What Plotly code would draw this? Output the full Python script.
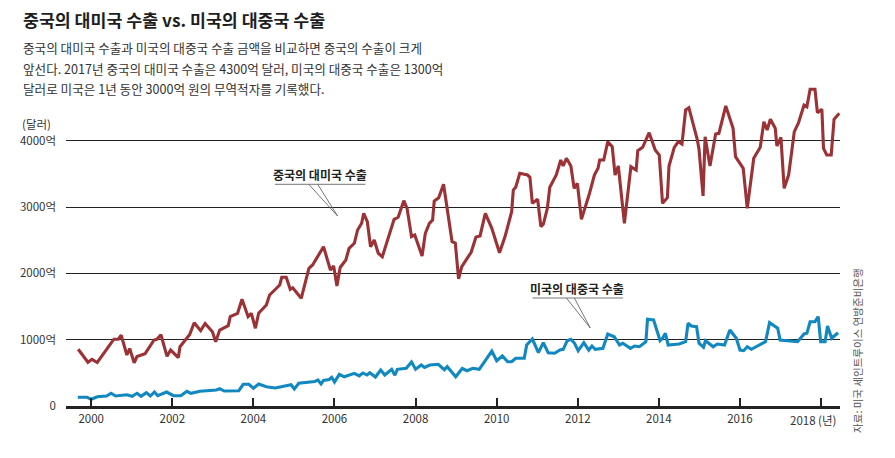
import plotly.graph_objects as go

# ---- data (x = decimal year, y = 억 달러) ----
china_to_us_t = [1999.68, 1999.92, 2000.02, 2000.15, 2000.56, 2000.67, 2000.74, 2000.88, 2000.95, 2001.06,
                 2001.13, 2001.33, 2001.55, 2001.62, 2001.72, 2001.87, 2001.96, 2002.15, 2002.19, 2002.43,
                 2002.54, 2002.70, 2002.81, 2002.99, 2003.07, 2003.17, 2003.38, 2003.43, 2003.61, 2003.72,
                 2003.87, 2003.95, 2004.05, 2004.13, 2004.32, 2004.40, 2004.65, 2004.70, 2004.81, 2004.91,
                 2004.97, 2005.18, 2005.37, 2005.46, 2005.73, 2005.90, 2005.98, 2006.06, 2006.14, 2006.28,
                 2006.36, 2006.49, 2006.57, 2006.67, 2006.72, 2006.81, 2006.89, 2006.98, 2007.08, 2007.18,
                 2007.47, 2007.57, 2007.71, 2007.79, 2007.90, 2007.98, 2008.16, 2008.24, 2008.34, 2008.42,
                 2008.46, 2008.57, 2008.69, 2008.90, 2008.98, 2009.06, 2009.14, 2009.37, 2009.49, 2009.59,
                 2009.72, 2009.88, 2010.07, 2010.21, 2010.37, 2010.41, 2010.47, 2010.57, 2010.76, 2010.82,
                 2010.88, 2011.01, 2011.09, 2011.15, 2011.25, 2011.31, 2011.47, 2011.58, 2011.64, 2011.72,
                 2011.83, 2011.91, 2011.99, 2012.09, 2012.29, 2012.41, 2012.50, 2012.54, 2012.64, 2012.74,
                 2012.85, 2012.92, 2013.00, 2013.15, 2013.31, 2013.44, 2013.48, 2013.60, 2013.76, 2013.91,
                 2014.01, 2014.09, 2014.21, 2014.25, 2014.38, 2014.48, 2014.57, 2014.66, 2014.74, 2014.95,
                 2014.99, 2015.09, 2015.14, 2015.26, 2015.40, 2015.48, 2015.65, 2015.83, 2015.89, 2016.08,
                 2016.18, 2016.34, 2016.50, 2016.59, 2016.67, 2016.75, 2016.87, 2016.91, 2017.01, 2017.09,
                 2017.20, 2017.34, 2017.44, 2017.58, 2017.65, 2017.73, 2017.85, 2017.91, 2018.02, 2018.06,
                 2018.14, 2018.25, 2018.32, 2018.45]
china_to_us_v = [855, 659, 704, 656, 1007, 1007, 1068, 769, 867, 652,
                 746, 789, 995, 1006, 1074, 749, 844, 731, 894, 1078,
                 1256, 1136, 1244, 1120, 970, 1146, 1211, 1347, 1398, 1609,
                 1347, 1398, 1172, 1398, 1523, 1674, 1825, 1941, 1941, 1760,
                 1784, 1624, 2077, 2126, 2402, 2051, 2111, 1810, 2089, 2202,
                 2378, 2454, 2654, 2755, 2906, 2779, 2402, 2503, 2303, 2251,
                 2815, 2846, 3096, 2981, 2553, 2579, 2262, 2604, 2755, 2805,
                 3091, 3141, 3343, 2478, 2458, 1918, 2101, 2319, 2549, 2564,
                 2906, 2680, 2312, 2564, 2930, 3257, 3298, 3509, 3483, 3449,
                 3057, 3117, 2704, 2740, 2981, 3298, 3483, 3710, 3619, 3735,
                 3619, 3283, 3358, 2815, 3208, 3483, 3585, 3710, 3710, 3986,
                 3910, 3483, 3619, 2755, 3609, 3559, 3850, 3901, 4121, 3860,
                 3785, 3057, 3141, 3619, 3901, 3986, 3951, 4464, 4498, 4011,
                 3871, 3167, 4061, 3619, 4102, 4112, 4524, 4188, 3759, 3584,
                 2981, 3735, 3901, 4287, 4162, 4323, 4188, 3921, 4052, 3283,
                 3483, 4137, 4263, 4539, 4513, 4776, 4776, 4423, 4474, 3886,
                 3785, 3785, 4323, 4414]

us_to_china_t = [1999.67, 1999.90, 2000.00, 2000.15, 2000.38, 2000.49, 2000.60, 2000.88, 2001.01, 2001.13,
                 2001.23, 2001.36, 2001.46, 2001.56, 2001.64, 2001.86, 2002.03, 2002.21, 2002.36, 2002.46,
                 2002.68, 2002.89, 2003.09, 2003.17, 2003.28, 2003.64, 2003.75, 2003.89, 2004.00, 2004.13,
                 2004.32, 2004.54, 2004.85, 2004.93, 2005.01, 2005.12, 2005.51, 2005.59, 2005.67, 2005.73,
                 2005.87, 2005.93, 2006.00, 2006.12, 2006.24, 2006.49, 2006.61, 2006.70, 2006.80, 2006.87,
                 2007.01, 2007.14, 2007.24, 2007.41, 2007.49, 2007.55, 2007.77, 2007.90, 2008.00, 2008.14,
                 2008.22, 2008.35, 2008.56, 2008.71, 2008.78, 2008.99, 2009.15, 2009.27, 2009.41, 2009.57,
                 2009.88, 2010.00, 2010.14, 2010.27, 2010.37, 2010.47, 2010.68, 2010.74, 2010.88, 2011.03,
                 2011.15, 2011.27, 2011.43, 2011.56, 2011.64, 2011.74, 2011.83, 2011.92, 2012.01, 2012.15,
                 2012.27, 2012.35, 2012.43, 2012.62, 2012.74, 2012.90, 2013.03, 2013.11, 2013.30, 2013.40,
                 2013.52, 2013.68, 2013.72, 2013.87, 2014.03, 2014.09, 2014.16, 2014.23, 2014.50, 2014.66,
                 2014.72, 2014.80, 2014.93, 2014.99, 2015.10, 2015.15, 2015.34, 2015.44, 2015.62, 2015.75,
                 2015.91, 2016.00, 2016.09, 2016.18, 2016.28, 2016.63, 2016.73, 2016.93, 2016.99, 2017.24,
                 2017.42, 2017.58, 2017.65, 2017.73, 2017.85, 2017.93, 2017.99, 2018.10, 2018.16, 2018.26,
                 2018.42]
us_to_china_v = [131, 131, 101, 140, 151, 192, 151, 170, 146, 192,
                 146, 201, 151, 211, 155, 211, 155, 155, 222, 192,
                 222, 231, 241, 261, 226, 231, 327, 327, 267, 332,
                 291, 271, 306, 320, 256, 342, 369, 392, 332, 385,
                 400, 433, 362, 478, 440, 493, 455, 498, 467, 502,
                 437, 543, 467, 553, 464, 553, 568, 664, 555, 618,
                 581, 618, 629, 547, 593, 442, 565, 532, 569, 553,
                 829, 683, 754, 668, 668, 719, 719, 920, 1010, 804,
                 955, 804, 795, 844, 855, 985, 1006, 946, 834, 955,
                 844, 905, 855, 870, 1086, 1045, 920, 946, 870, 905,
                 894, 970, 1307, 1297, 985, 1021, 1096, 920, 935, 970,
                 1247, 1206, 1196, 946, 885, 985, 894, 935, 920, 1146,
                 1021, 844, 834, 894, 855, 970, 1256, 1172, 995, 980,
                 970, 1086, 1096, 1271, 1271, 1347, 970, 970, 1206, 1021,
                 1105]

year_ticks = [2000, 2002, 2004, 2006, 2008, 2010, 2012, 2014, 2016, 2018]
year_labels = ["2000", "2002", "2004", "2006", "2008", "2010", "2012", "2014", "2016", ""]
value_ticks = [0, 1000, 2000, 3000, 4000]
value_labels = ["0", "1000억", "2000억", "3000억", "4000억"]

title = "중국의 대미국 수출 vs. 미국의 대중국 수출"
subtitle = ["중국의 대미국 수출과 미국의 대중국 수출 금액을 비교하면 중국의 수출이 크게",
            "앞선다. 2017년 중국의 대미국 수출은 4300억 달러, 미국의 대중국 수출은 1300억",
            "달러로 미국은 1년 동안 3000억 원의 무역적자를 기록했다."]
source = "자료: 미국 세인트루이스 연방준비은행"

# ---- layout geometry (page body adds an 8px offset) ----
OFF = 8
W, H = 895 - OFF, 458 - OFF
PLOT_L, PLOT_R, PLOT_T, PLOT_B = 62, 840, 80, 406   # target window pixels
L = PLOT_L - OFF
T = PLOT_T - OFF
R = W - (PLOT_R - OFF)
B = H - (PLOT_B - OFF)
PW = PLOT_R - PLOT_L
PH = PLOT_B - PLOT_T
FONT = "Noto Sans CJK KR"
RED = "#9b3236"
BLUE = "#1189c0"


def px(xp):
    return (xp - PLOT_L) / PW


def py(yp):
    return (PLOT_B - yp) / PH


fig = go.Figure()
fig.add_trace(go.Scatter(x=china_to_us_t, y=china_to_us_v, mode="lines",
                         line=dict(color=RED, width=3.1), hoverinfo="skip"))
fig.add_trace(go.Scatter(x=us_to_china_t, y=us_to_china_v, mode="lines",
                         line=dict(color=BLUE, width=3.1), hoverinfo="skip"))

ann = []
ann.append(dict(text="<b>" + title + "</b>", xref="paper", yref="paper", x=px(17), y=py(20),
                xanchor="left", yanchor="middle", showarrow=False,
                font=dict(family=FONT, size=17.3, color="#1e1e1e")))
for i, line in enumerate(subtitle):
    ann.append(dict(text=line, xref="paper", yref="paper", x=px(17), y=py(48 + i * 20.3),
                    xanchor="left", yanchor="middle", showarrow=False,
                    font=dict(family=FONT, size=12.6, color="#333333")))
ann.append(dict(text="(달러)", xref="paper", yref="paper", x=px(16), y=py(124),
                xanchor="left", yanchor="middle", showarrow=False,
                font=dict(family=FONT, size=11.5, color="#333333")))
ann.append(dict(text="2018 (년)", xref="paper", yref="paper", x=px(838), y=py(420),
                xanchor="right", yanchor="middle", showarrow=False,
                font=dict(family=FONT, size=11.5, color="#333333")))
ann.append(dict(text=source, xref="paper", yref="paper", x=px(857), y=py(350),
                xanchor="center", yanchor="middle", showarrow=False, textangle=-90,
                font=dict(family=FONT, size=10.5, color="#555555")))
# series labels
ann.append(dict(text="<b>중국의 대미국 수출</b>", xref="paper", yref="paper", x=px(317.5), y=py(174),
                xanchor="center", yanchor="middle", showarrow=False,
                font=dict(family=FONT, size=12, color="#222222")))
ann.append(dict(text="<b>미국의 대중국 수출</b>", xref="paper", yref="paper", x=px(576), y=py(288),
                xanchor="center", yanchor="middle", showarrow=False,
                font=dict(family=FONT, size=12, color="#222222")))

shapes = []
lc = dict(color="#666666", width=0.9)
# callout for red
shapes.append(dict(type="line", xref="paper", yref="paper", x0=px(272), x1=px(363), y0=py(184.3), y1=py(184.3), line=lc))
shapes.append(dict(type="line", xref="paper", yref="paper", x0=px(306), x1=px(335), y0=py(184.3), y1=py(216), line=lc))
shapes.append(dict(type="line", xref="paper", yref="paper", x0=px(315), x1=px(335), y0=py(184.3), y1=py(216), line=lc))
# callout for blue
shapes.append(dict(type="line", xref="paper", yref="paper", x0=px(531), x1=px(622), y0=py(298), y1=py(298), line=lc))
shapes.append(dict(type="line", xref="paper", yref="paper", x0=px(565), x1=px(589), y0=py(298), y1=py(328), line=lc))
shapes.append(dict(type="line", xref="paper", yref="paper", x0=px(573), x1=px(589), y0=py(298), y1=py(328), line=lc))

fig.update_layout(
    width=W, height=H,
    margin=dict(l=L, r=R, t=T, b=B, pad=0),
    paper_bgcolor="white", plot_bgcolor="white",
    showlegend=False,
    annotations=ann, shapes=shapes,
    font=dict(family=FONT, color="#333333"),
    xaxis=dict(range=[1999.379, 2018.467], tickvals=year_ticks, ticktext=year_labels,
               ticks="inside", ticklen=8, tickwidth=1.5, tickcolor="#222222",
               showline=True, linecolor="#222222", linewidth=2.6,
               showgrid=False, zeroline=False,
               tickfont=dict(family=FONT, size=11.5, color="#333333")),
    yaxis=dict(range=[0, 4916], tickvals=value_ticks, ticktext=value_labels,
               showgrid=True, gridcolor="#222222", gridwidth=1.2,
               zeroline=False, ticks="", ticklabelstandoff=9,
               tickfont=dict(family=FONT, size=11.5, color="#333333")),
)

fig.write_html("out.html")
